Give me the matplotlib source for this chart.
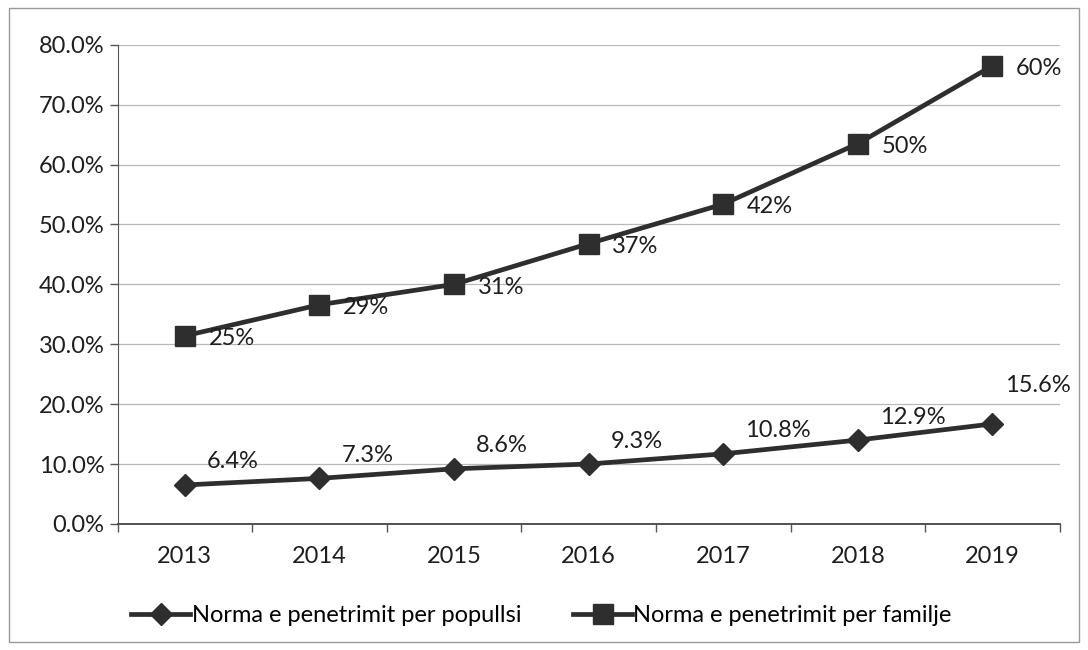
import matplotlib
matplotlib.use('Agg')
import matplotlib.pyplot as plt
from matplotlib.patches import Rectangle
from matplotlib.ticker import FuncFormatter, FixedLocator

years = ['2013', '2014', '2015', '2016', '2017', '2018', '2019']
# plotted positions (the printed labels differ)
familje = [31.4, 36.6, 40.0, 46.8, 53.4, 63.5, 76.5]
popullsi = [6.5, 7.6, 9.2, 10.0, 11.7, 14.0, 16.7]
familje_labels = ['25%', '29%', '31%', '37%', '42%', '50%', '60%']
popullsi_labels = ['6.4%', '7.3%', '8.6%', '9.3%', '10.8%', '12.9%', '15.6%']

plt.rcParams['font.family'] = ['Lato', 'DejaVu Sans']
line_color = '#2e2e2e'
text_color = '#1e1e1e'
fs = 17

fig = plt.figure(figsize=(10.88, 6.5), dpi=100)
ax = fig.add_axes([0.108, 0.194, 0.866, 0.737])

x = list(range(len(years)))
ax.plot(x, popullsi, color=line_color, lw=3.4, marker='D', markersize=11,
        label='Norma e penetrimit per popullsi')
ax.plot(x, familje, color=line_color, lw=3.4, marker='s', markersize=14,
        label='Norma e penetrimit per familje')

for i, lab in enumerate(popullsi_labels):
    if i < 6:
        ax.annotate(lab, (x[i], popullsi[i]), xytext=(16, 9), textcoords='offset points',
                    ha='left', va='bottom', fontsize=fs, color=text_color)
    else:
        ax.annotate(lab, (x[i], popullsi[i]), xytext=(33, 20), textcoords='offset points',
                    ha='center', va='bottom', fontsize=fs, color=text_color)
for i, lab in enumerate(familje_labels):
    ax.annotate(lab, (x[i], familje[i]), xytext=(17, -2), textcoords='offset points',
                ha='left', va='center', fontsize=fs, color=text_color)

ax.set_xlim(-0.5, 6.5)
ax.set_ylim(0, 80)
ax.set_yticks(range(0, 81, 10))
ax.yaxis.set_major_formatter(FuncFormatter(lambda v, p: '{:.1f}%'.format(v)))
ax.set_xticks(x)
ax.set_xticklabels(years)
ax.xaxis.set_minor_locator(FixedLocator([i - 0.5 for i in range(8)]))
ax.tick_params(axis='x', which='major', length=0, pad=16, labelsize=fs, colors=text_color)
ax.tick_params(axis='x', which='minor', length=6, width=1, color='#555555')
ax.tick_params(axis='y', length=6, width=1, color='#555555', labelsize=fs, labelcolor=text_color)

ax.grid(axis='y', color='#b8b8b8', lw=0.9)
ax.set_axisbelow(True)
for s in ['top', 'right']:
    ax.spines[s].set_visible(False)
ax.spines['left'].set_color('#555555')
ax.spines['bottom'].set_color('#444444')
ax.spines['bottom'].set_linewidth(1.3)

ax.legend(loc='upper center', bbox_to_anchor=(0.45, -0.125), ncol=2, frameon=False,
          fontsize=fs, handlelength=2.5, handletextpad=0.05, columnspacing=2.2)

fig.patches.append(Rectangle((0.008, 0.012), 0.984, 0.975, transform=fig.transFigure,
                             fill=False, edgecolor='#999999', lw=1))

fig.savefig('out.png', dpi=100)
